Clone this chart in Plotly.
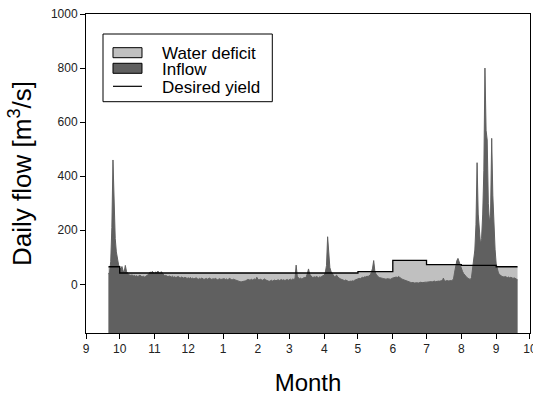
import pandas as pd
import plotly.graph_objects as go

# Daily inflow [m3/s], 21 Sep 2001 - 20 Sep 2002, grouped by month
inflow_sep_start = [38, 45, 85, 210, 460, 290, 170, 120, 92, 72]
inflow_oct = [62, 58, 66, 50, 46, 70, 48, 40, 36, 34, 33, 35, 31, 33, 30, 32,
              29, 31, 34, 30, 28, 30, 27, 29, 31, 33, 38, 46, 42, 48, 44]
inflow_nov = [40, 46, 43, 49, 41, 38, 47, 40, 34, 31, 33, 30, 28, 31, 29, 27,
              30, 26, 28, 25, 27, 29, 26, 24, 27, 25, 23, 26, 24, 22]
inflow_dec = [24, 22, 25, 21, 23, 20, 22, 24, 21, 19, 22, 20, 23, 21, 18, 20,
              22, 19, 21, 23, 20, 18, 21, 19, 22, 20, 17, 19, 21, 18, 20]
inflow_jan = [19, 21, 18, 20, 17, 19, 22, 18, 16, 19, 17, 18, 13, 11, 12, 10,
              9, 11, 10, 12, 13, 16, 18, 17, 15, 19, 16, 18, 20, 17, 26]
inflow_feb = [18, 16, 19, 17, 15, 18, 20, 16, 14, 12, 11, 13, 15, 12, 14, 16,
              13, 15, 17, 14, 16, 18, 15, 17, 14, 16, 18, 15]
inflow_mar = [17, 19, 16, 20, 18, 22, 71, 30, 24, 21, 23, 20, 22, 25, 24, 28,
              40, 57, 38, 30, 27, 25, 28, 26, 29, 27, 24, 28, 26, 30, 32]
inflow_apr = [34, 45, 70, 176, 95, 62, 48, 40, 32, 28, 30, 34, 27, 23, 21, 19,
              17, 15, 14, 16, 13, 11, 10, 12, 11, 13, 12, 15, 17, 18]
inflow_may = [20, 22, 21, 24, 26, 25, 28, 27, 30, 29, 32, 35, 45, 60, 88, 50,
              38, 32, 28, 25, 23, 24, 22, 21, 20, 19, 21, 20, 18, 19, 22]
inflow_jun = [24, 26, 28, 27, 25, 29, 26, 22, 20, 18, 16, 14, 12, 11, 9, 8,
              7, 6, 7, 5, 6, 7, 6, 5, 7, 8, 6, 7, 9, 8]
inflow_jul = [8, 9, 10, 11, 10, 9, 11, 12, 10, 11, 13, 12, 11, 14, 12, 23,
              13, 12, 14, 13, 12, 14, 13, 15, 20, 45, 75, 88, 96, 82, 68]
inflow_aug = [58, 48, 40, 34, 29, 25, 22, 19, 18, 25, 55, 90, 127, 220, 450, 260,
              190, 150, 170, 260, 420, 800, 570, 534, 300, 230, 260, 540, 330, 200, 130]
inflow_sep_end = [75, 50, 42, 36, 32, 30, 28, 27, 29, 26, 25, 27, 24, 26, 23, 22,
                  24, 21, 19, 17]

# Desired yield [m3/s] for each calendar month
yield_by_month = {9: 65, 10: 42, 11: 42, 12: 42, 1: 42, 2: 42, 3: 42, 4: 42,
                  5: 47, 6: 89, 7: 73, 8: 70}

y_ticks = [0, 200, 400, 600, 800, 1000]
month_ticks = pd.date_range("2001-09-01", "2002-10-01", freq="MS")
month_labels = [str(d.month) for d in month_ticks]

inflow = (inflow_sep_start + inflow_oct + inflow_nov + inflow_dec + inflow_jan
          + inflow_feb + inflow_mar + inflow_apr + inflow_may + inflow_jun
          + inflow_jul + inflow_aug + inflow_sep_end)
dates = pd.date_range("2001-09-21", periods=len(inflow), freq="D")
desired = [yield_by_month[d.month] for d in dates]
floor = [-1000] * len(dates)

LIGHT = "#c0c0c0"
DARK = "#606060"
FONT = "Liberation Sans, Arial, sans-serif"

fig = go.Figure()
# deficit layer: light area under the desired yield
fig.add_trace(go.Scatter(x=dates, y=floor, mode="lines", line=dict(width=0),
                         hoverinfo="skip", showlegend=False))
fig.add_trace(go.Scatter(x=dates, y=desired, mode="lines", line=dict(width=0, shape="hv"),
                         fill="tonexty", fillcolor=LIGHT, name="Water deficit",
                         showlegend=False))
# inflow layer drawn over it
fig.add_trace(go.Scatter(x=dates, y=floor, mode="lines", line=dict(width=0),
                         hoverinfo="skip", showlegend=False))
fig.add_trace(go.Scatter(x=dates, y=inflow, mode="lines", line=dict(width=1, color=DARK),
                         fill="tonexty", fillcolor=DARK, name="Inflow", showlegend=False))
# desired yield line
fig.add_trace(go.Scatter(x=dates, y=desired, mode="lines",
                         line=dict(width=1.3, color="black", shape="hv"),
                         name="Desired yield", showlegend=False))

# legend box
shapes = [
    dict(type="rect", xref="paper", yref="paper", x0=0.0383, x1=0.4196,
         y0=0.7251, y1=0.9373, line=dict(color="black", width=1), fillcolor="white",
         layer="above"),
    dict(type="rect", xref="paper", yref="paper", x0=0.0608, x1=0.1261,
         y0=0.863, y1=0.8944, line=dict(color="black", width=1), fillcolor=LIGHT,
         layer="above"),
    dict(type="rect", xref="paper", yref="paper", x0=0.0608, x1=0.1261,
         y0=0.8141, y1=0.8455, line=dict(color="black", width=1), fillcolor=DARK,
         layer="above"),
    dict(type="line", xref="paper", yref="paper", x0=0.0608, x1=0.1261,
         y0=0.7733, y1=0.7733, line=dict(color="black", width=1.2), layer="above"),
]
legend_labels = ["Water deficit", "Inflow", "Desired yield"]
legend_y = [0.8760, 0.8270, 0.7705]
annotations = [
    dict(text=t, xref="paper", yref="paper", x=0.1690, y=yy, xanchor="left",
         yanchor="middle", showarrow=False, borderpad=0,
         font=dict(size=17, color="black", family=FONT))
    for t, yy in zip(legend_labels, legend_y)
]

fig.update_layout(
    width=533, height=396,
    margin=dict(l=86, r=3, t=14, b=63, autoexpand=False),
    paper_bgcolor="white", plot_bgcolor="white",
    font=dict(family=FONT, color="black"),
    shapes=shapes, annotations=annotations,
    showlegend=False,
)
fig.update_xaxes(
    type="date", range=["2001-09-01", "2002-10-01 02:00"],
    tickvals=month_ticks, ticktext=month_labels, ticklabeloverflow="allow",
    automargin=False,
    showline=True, linecolor="black", linewidth=1, mirror=True,
    ticks="outside", ticklen=5, tickcolor="black", tickwidth=1,
    showgrid=False, zeroline=False,
    tickfont=dict(size=12, color="#222"),
    title=dict(text="Month", font=dict(size=24, color="black"), standoff=20),
)
fig.update_yaxes(
    range=[-180, 1000], tickvals=y_ticks, automargin=False,
    showline=True, linecolor="black", linewidth=1, mirror=True,
    ticks="outside", ticklen=5, tickcolor="black", tickwidth=1,
    showgrid=False, zeroline=False,
    tickfont=dict(size=12, color="#222"),
    title=dict(text="Daily flow [m<sup>3</sup>/s]", font=dict(size=26, color="black"),
               standoff=11),
)

fig.write_html("out.html")
